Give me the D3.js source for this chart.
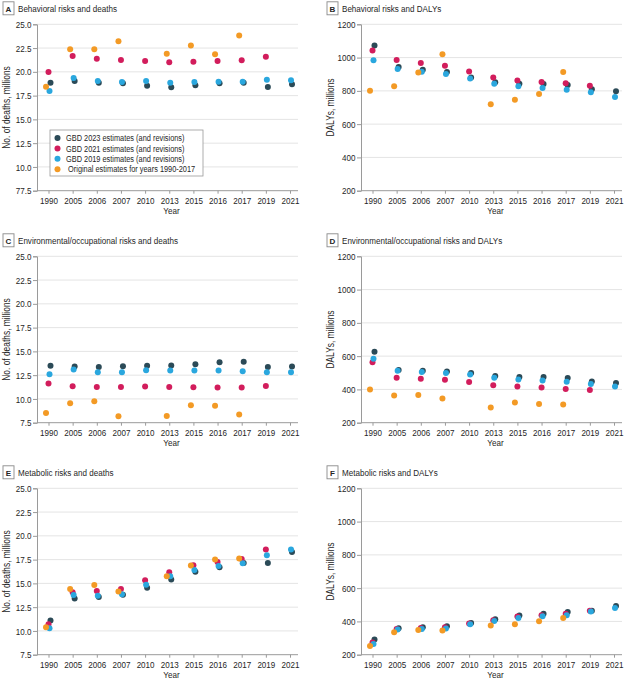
<!DOCTYPE html>
<html>
<head>
<meta charset="utf-8">
<title>Risk factor estimates across GBD rounds</title>
<script src="https://cdn.jsdelivr.net/npm/d3@7/dist/d3.min.js"></script>
<style>
  body { margin: 0; background: #fff; }
  svg text { font-family: "Liberation Sans", Arial, sans-serif; fill: #262626; }
</style>
</head>
<body>
<svg id="chart" width="625" height="680"></svg>
<script>
// years on the x axis (treated as categories)
var years = ["1990", "2005", "2006", "2007", "2010", "2013", "2015", "2016", "2017", "2019", "2021"];

// A - behavioral risks, deaths (millions)
var behavDeaths2023 = [18.86, 19.04, 18.86, 18.79, 18.55, 18.37, 18.58, 18.79, 18.86, 18.41, 18.69];
var behavDeaths2021 = [19.98, 21.67, 21.39, 21.25, 21.14, 21.0, 21.07, 21.14, 21.21, 21.6, null];
var behavDeaths2019 = [17.98, 19.35, 19.04, 18.93, 19.04, 18.86, 18.93, 18.97, 18.97, 19.18, 19.11];
var behavDeathsOrig = [18.44, 22.37, 22.37, 23.21, null, 21.91, 22.76, 21.84, 23.81, null, null];

// B - behavioral risks, DALYs (millions)
var behavDalys2023 = [1072, 943, 927, 913, 881, 851, 843, 841, 835, 809, 797];
var behavDalys2021 = [1042, 986, 968, 951, 917, 881, 863, 853, 845, 831, null];
var behavDalys2019 = [984, 931, 915, 901, 875, 843, 827, 817, 807, 791, 763];
var behavDalysOrig = [801, 827, 911, 1020, null, 719, 747, 781, 913, null, null];

// C - environmental/occupational risks, deaths
var envDeaths2023 = [13.48, 13.41, 13.37, 13.44, 13.48, 13.51, 13.65, 13.86, 13.9, 13.37, 13.41];
var envDeaths2021 = [11.61, 11.33, 11.26, 11.26, 11.3, 11.26, 11.23, 11.19, 11.19, 11.37, null];
var envDeaths2019 = [12.6, 13.09, 12.81, 12.81, 13.02, 12.98, 12.98, 12.98, 12.91, 12.81, 12.81];
var envDeathsOrig = [8.52, 9.54, 9.75, 8.17, null, 8.2, 9.33, 9.29, 8.35, null, null];

// D - environmental/occupational risks, DALYs
var envDalys2023 = [627, 516, 512, 508, 498, 480, 474, 474, 468, 448, 439];
var envDalys2021 = [564, 470, 464, 458, 444, 425, 417, 411, 403, 397, null];
var envDalys2019 = [584, 512, 504, 498, 490, 470, 460, 454, 446, 433, 417];
var envDalysOrig = [399, 363, 367, 345, null, 291, 321, 313, 309, null, null];

// E - metabolic risks, deaths
var metabDeaths2023 = [11.09, 13.42, 13.56, 13.8, 14.54, 15.42, 16.23, 16.69, 17.15, 17.15, 18.31];
var metabDeaths2021 = [10.7, 14.08, 14.19, 14.4, 15.32, 16.16, 16.9, 17.25, 17.57, 18.56, null];
var metabDeaths2019 = [10.28, 13.77, 13.7, 13.87, 14.86, 15.74, 16.41, 16.83, 17.11, 17.96, 18.56];
var metabDeathsOrig = [10.39, 14.4, 14.82, 14.15, null, 15.74, 16.87, 17.5, 17.61, null, null];

// F - metabolic risks, DALYs
var metabDalys2023 = [291, 359, 365, 371, 391, 413, 435, 446, 456, 464, 492];
var metabDalys2021 = [274, 355, 361, 365, 387, 407, 429, 437, 446, 464, null];
var metabDalys2019 = [264, 351, 355, 357, 383, 403, 421, 431, 437, 460, 480];
var metabDalysOrig = [252, 335, 349, 345, null, 375, 383, 401, 421, null, null];

// y tick values / labels
var deathTicks = [7.5, 10, 12.5, 15, 17.5, 20, 22.5, 25];
var deathTickLabels = ["7.5", "10.0", "12.5", "15.0", "17.5", "20.0", "22.5", "25.0"];
var deathTickLabelsA = ["77.5", "10.0", "12.5", "15.0", "17.5", "20.0", "22.5", "25.0"];
var dalyTicks = [200, 400, 600, 800, 1000, 1200];
var dalyTickLabels = ["200", "400", "600", "800", "1000", "1200"];

// series, drawn in this order (legend lists them the same way)
var seriesNames = ["GBD 2023 estimates (and revisions)", "GBD 2021 estimates (and revisions)",
                   "GBD 2019 estimates (and revisions)", " Original estimates for years 1990-2017"];
var seriesColors = ["#2b4a57", "#d21d5c", "#2aa7de", "#f39a25"];
var seriesDx = [2, 0, 1, -2.5];

var panels = [
  {key: "A", title: "Behavioral risks and deaths", kind: "deaths", col: 0, row: 0, labels: deathTickLabelsA,
   data: [behavDeaths2023, behavDeaths2021, behavDeaths2019, behavDeathsOrig]},
  {key: "B", title: "Behavioral risks and DALYs", kind: "dalys", col: 1, row: 0, labels: dalyTickLabels,
   data: [behavDalys2023, behavDalys2021, behavDalys2019, behavDalysOrig]},
  {key: "C", title: "Environmental/occupational risks and deaths", kind: "deaths", col: 0, row: 1, labels: deathTickLabels,
   data: [envDeaths2023, envDeaths2021, envDeaths2019, envDeathsOrig]},
  {key: "D", title: "Environmental/occupational risks and DALYs", kind: "dalys", col: 1, row: 1, labels: dalyTickLabels,
   data: [envDalys2023, envDalys2021, envDalys2019, envDalysOrig]},
  {key: "E", title: "Metabolic risks and deaths", kind: "deaths", col: 0, row: 2, labels: deathTickLabels,
   data: [metabDeaths2023, metabDeaths2021, metabDeaths2019, metabDeathsOrig]},
  {key: "F", title: "Metabolic risks and DALYs", kind: "dalys", col: 1, row: 2, labels: dalyTickLabels,
   data: [metabDalys2023, metabDalys2021, metabDalys2019, metabDalysOrig]}
];

var colLeft = [37, 361];
var rowTop = [24.3, 256.3, 488.3];
var plotW = 261, plotH = 166.4;
var SX = 0.84; // the original uses a condensed face, squeeze a regular one

var svg = d3.select("#chart");

// text squeezed horizontally
function narrowText(sel, x, y, txt, size, rot) {
  return sel.append("text")
    .attr("transform", "translate(" + x + "," + y + ")" + (rot ? " rotate(" + rot + ")" : "") + " scale(" + SX + ",1)")
    .attr("font-size", size)
    .text(txt);
}

panels.forEach(function(p){
  var left = colLeft[p.col], top = rowTop[p.row];
  var g = svg.append("g").attr("transform", "translate(" + left + "," + top + ")");

  var x = d3.scalePoint().domain(years).range([11.5, 253]);
  var ticks = p.kind == "deaths" ? deathTicks : dalyTicks;
  var y = d3.scaleLinear().domain([ticks[0], ticks[ticks.length - 1]]).range([plotH, 0]);

  // gridlines
  g.append("g").selectAll("line").data(ticks.slice(1)).enter().append("line")
    .attr("x1", 0).attr("x2", plotW)
    .attr("y1", function(d){ return y(d); }).attr("y2", function(d){ return y(d); })
    .attr("stroke", "#e4e4e4").attr("stroke-width", 1);

  // y axis
  var yAxis = d3.axisLeft(y).tickValues(ticks).tickSize(4).tickPadding(2)
    .tickFormat(function(d, i){ return p.labels[i]; });
  var ya = g.append("g").call(yAxis);
  ya.select(".domain").attr("stroke", "#9a9a9a");
  ya.selectAll(".tick line").attr("stroke", "#9a9a9a");
  ya.selectAll("text").attr("font-size", 9.6).attr("fill", "#262626")
    .attr("transform", "scale(" + SX + ",1)").attr("x", -5.5 / SX);

  // x axis
  var xAxis = d3.axisBottom(x).tickSize(3).tickPadding(3).tickSizeOuter(0);
  var xa = g.append("g").attr("transform", "translate(0," + plotH + ")").call(xAxis);
  xa.select(".domain").attr("stroke", "#9a9a9a").attr("d", "M0,0H" + plotW);
  xa.selectAll(".tick line").attr("stroke", "#9a9a9a");
  xa.selectAll("text").attr("font-size", 9.6).attr("fill", "#262626")
    .attr("transform", "scale(" + SX + ",1)");

  // axis titles
  narrowText(g, plotW / 2 + 4, plotH + 23, "Year", 9.6).attr("text-anchor", "middle");
  narrowText(g, -27, plotH / 2, p.kind == "deaths" ? "No. of deaths, millions" : "DALYs, millions", 10, -90)
    .attr("text-anchor", "middle");

  // panel letter + title
  var tl = svg.append("g").attr("transform", "translate(" + (left - 34) + "," + (top - 16) + ")");
  tl.append("rect").attr("x", 0).attr("y", -6.5).attr("width", 11).attr("height", 13)
    .attr("fill", "#fff").attr("stroke", "#8a8a8a").attr("stroke-width", 0.9);
  tl.append("text").attr("x", 5.5).attr("y", 3.2).attr("text-anchor", "middle")
    .attr("font-size", 8).attr("font-weight", "bold").attr("fill", "#1a1a1a").text(p.key);
  narrowText(tl, 15, 3.6, p.title, 9.6);

  // points
  p.data.forEach(function(vals, si){
    var pts = years.map(function(yr, i){ return {year: yr, v: vals[i]}; })
      .filter(function(d){ return d.v != null; });
    g.append("g").selectAll("circle").data(pts).enter().append("circle")
      .attr("cx", function(d){ return x(d.year) + seriesDx[si]; })
      .attr("cy", function(d){ return y(d.v); })
      .attr("r", 3.0)
      .attr("fill", seriesColors[si]);
  });

  // legend only in panel A
  if (p.key == "A") {
    var lg = svg.append("g").attr("transform", "translate(50,130)");
    lg.append("rect").attr("width", 153).attr("height", 46)
      .attr("fill", "#fff").attr("stroke", "#9a9a9a").attr("stroke-width", 0.8);
    seriesNames.forEach(function(name, si){
      var row = lg.append("g").attr("transform", "translate(0," + (8 + si * 10.4) + ")");
      row.append("circle").attr("cx", 7.5).attr("cy", 0).attr("r", 3.0).attr("fill", seriesColors[si]);
      narrowText(row, 16, 3.2, name, 8.8).style("white-space", "pre");
    });
  }
});
</script>
</body>
</html>
